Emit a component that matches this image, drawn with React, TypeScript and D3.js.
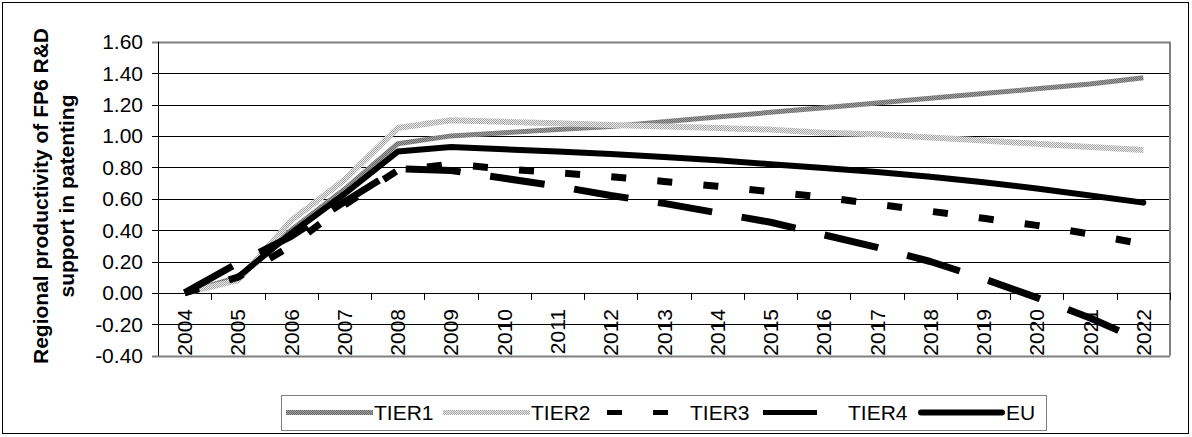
import React from "react";
import * as d3 from "d3";

const years = ["2004","2005","2006","2007","2008","2009","2010","2011","2012","2013","2014","2015","2016","2017","2018","2019","2020","2021","2022"];
const tier1 = [0, 0.10, 0.40, 0.66, 0.95, 1.00, 1.02, 1.04, 1.06, 1.09, 1.12, 1.15, 1.18, 1.21, 1.24, 1.27, 1.30, 1.33, 1.37];
const tier2 = [0, 0.08, 0.46, 0.72, 1.05, 1.10, 1.09, 1.08, 1.07, 1.06, 1.05, 1.04, 1.02, 1.01, 0.99, 0.97, 0.95, 0.93, 0.91];
const tier3 = [0, 0.10, 0.30, 0.56, 0.78, 0.82, 0.79, 0.765, 0.74, 0.71, 0.68, 0.645, 0.61, 0.565, 0.52, 0.475, 0.43, 0.375, 0.31];
const tier4 = [0, 0.19, 0.36, 0.58, 0.79, 0.78, 0.73, 0.68, 0.62, 0.57, 0.51, 0.45, 0.37, 0.29, 0.20, 0.09, -0.03, -0.16, -0.31];
const eu: (number | null)[] = [null, 0.10, 0.38, 0.63, 0.90, 0.93, 0.915, 0.90, 0.885, 0.865, 0.845, 0.82, 0.795, 0.77, 0.74, 0.705, 0.665, 0.62, 0.575];
const seriesNames = ["TIER1", "TIER2", "TIER3", "TIER4", "EU"];
const yTitle = ["Regional productivity of FP6 R&D", "support in patenting"];

const FONT = "'Liberation Sans', Arial, Helvetica, sans-serif";

export default function App() {
  const W = 1192, H = 437;
  const left = 158, right = 1170, top = 41.7, bottom = 355.7;
  const x = d3.scaleBand<string>().domain(years).range([left, right]).paddingInner(0).paddingOuter(0);
  const y = d3.scaleLinear().domain([-0.4, 1.6]).range([bottom, top]);
  const cx = (yr: string) => (x(yr) as number) + x.bandwidth() / 2;
  const ticks = y.ticks(10);

  const line = d3.line<number | null>()
    .defined((d) => d !== null)
    .x((_, i) => cx(years[i]))
    .y((d) => y(d as number));

  const pathLen = (vals: (number | null)[]) => {
    let L = 0;
    let prev: [number, number] | null = null;
    vals.forEach((v, i) => {
      if (v === null) return;
      const p: [number, number] = [cx(years[i]), y(v)];
      if (prev) L += Math.hypot(p[0] - prev[0], p[1] - prev[1]);
      prev = p;
    });
    return L;
  };
  // fit a dash period so the pattern starts with a dash and ends with a gap of endGap
  const fitDash = (vals: (number | null)[], on: number, periodGuess: number, endGap: number) => {
    const L = pathLen(vals);
    const span = L - endGap - on;
    const n = Math.max(1, Math.floor(span / periodGuess));
    const P = span / n;
    return `${on} ${P - on}`;
  };

  const styles = [
    { stroke: "url(#pat1)", width: 5, dash: undefined as string | undefined, cap: "butt", legendDash: undefined as string | undefined, legendOff: 0 },
    { stroke: "url(#pat2)", width: 6, dash: undefined, cap: "butt", legendDash: undefined, legendOff: 0 },
    { stroke: "#000", width: 7, dash: fitDash(tier3, 15, 46, 13), cap: "butt", legendDash: "15 31", legendOff: -5 },
    { stroke: "#000", width: 7, dash: fitDash(tier4, 55, 83, 27), cap: "butt", legendDash: "54 40", legendOff: -3 },
    { stroke: "#000", width: 6, dash: undefined, cap: "round", legendDash: undefined, legendOff: 0 },
  ];
  const data = [tier1, tier2, tier3, tier4, eu];

  const legendStarts = [286, 443, 602, 760, 918];
  const legendLine = 87, legendY = 412.5;
  const y0 = y(0);

  return (
    <div style={{ position: "absolute", left: 0, top: 0 }}>
      <svg width={W} height={H} style={{ display: "block", fontFamily: FONT }}>
        <defs>
          <pattern id="pat1" patternUnits="userSpaceOnUse" width="2" height="2">
            <rect width="2" height="2" fill="#a0a0a0" />
            <rect width="1" height="1" fill="#6a6a6a" />
            <rect x="1" y="1" width="1" height="1" fill="#6a6a6a" />
          </pattern>
          <pattern id="pat2" patternUnits="userSpaceOnUse" width="2" height="2">
            <rect width="2" height="2" fill="#ececec" />
            <rect width="1" height="1" fill="#a4a4a4" />
            <rect x="1" y="1" width="1" height="1" fill="#a4a4a4" />
          </pattern>
        </defs>
        <rect x={0} y={0} width={W} height={H} fill="#fff" />
        <rect x={2.5} y={2.5} width={1186} height={431} fill="none" stroke="#000" strokeWidth={1} />

        {yTitle.map((t, i) => (
          <text key={t} transform={`translate(${48 + i * 26},196) rotate(-90)`} textAnchor="middle"
            fontSize={21} fontWeight="bold" fill="#000">{t}</text>
        ))}

        {years.map((yr) => (
          <text key={yr} transform={`translate(${cx(yr) + 7.5},309) rotate(-90)`} textAnchor="end" fontSize={21} fill="#000">{yr}</text>
        ))}

        {ticks.map((t) => (
          <line key={t} x1={left - 6} x2={right} y1={Math.round(y(t)) + 0.5} y2={Math.round(y(t)) + 0.5}
            stroke={t === -0.4 || t === 1.6 ? "#808080" : "#000"} strokeWidth={t === -0.4 || t === 1.6 ? 2 : 1} />
        ))}
        <line x1={right} x2={right} y1={top} y2={bottom} stroke="#808080" strokeWidth={2} />
        <line x1={left + 0.5} x2={left + 0.5} y1={top} y2={bottom} stroke="#000" strokeWidth={1} />
        <line x1={left} x2={right} y1={Math.round(y0) + 0.5} y2={Math.round(y0) + 0.5} stroke="#000" strokeWidth={1} />
        {years.concat(["end"]).map((yr, i) => {
          const xx = i < years.length ? (x(yr) as number) : right;
          return <line key={"t" + i} x1={Math.round(xx) + 0.5} x2={Math.round(xx) + 0.5} y1={y0} y2={y0 + 7} stroke="#000" strokeWidth={1} />;
        })}

        {ticks.map((t) => (
          <text key={"l" + t} x={143} y={y(t)} dy="0.36em" textAnchor="end" fontSize={21} fill="#000">{t.toFixed(2)}</text>
        ))}

        {data.map((d, i) => (
          <path key={seriesNames[i]} d={line(d as (number | null)[]) || ""} fill="none" stroke={styles[i].stroke}
            strokeWidth={styles[i].width} strokeDasharray={styles[i].dash} strokeLinecap={styles[i].cap as any}
            strokeLinejoin="round" />
        ))}

        <rect x={281.5} y={395.5} width={765} height={35} fill="#fff" stroke="#808080" strokeWidth={1} />
        {seriesNames.map((n, i) => {
          const sx = legendStarts[i];
          const s = styles[i];
          const r = s.cap === "round" ? 3 : 0;
          return (
            <g key={"lg" + n}>
              <line x1={sx + r} x2={sx + legendLine - r} y1={legendY} y2={legendY}
                stroke={s.stroke} strokeWidth={i === 4 ? 6 : 5} strokeDasharray={s.legendDash}
                strokeDashoffset={s.legendOff} strokeLinecap={s.cap as any} />
              <text x={sx + legendLine + 1} y={legendY + 7.5} fontSize={21} fill="#000">{n}</text>
            </g>
          );
        })}
      </svg>
    </div>
  );
}
